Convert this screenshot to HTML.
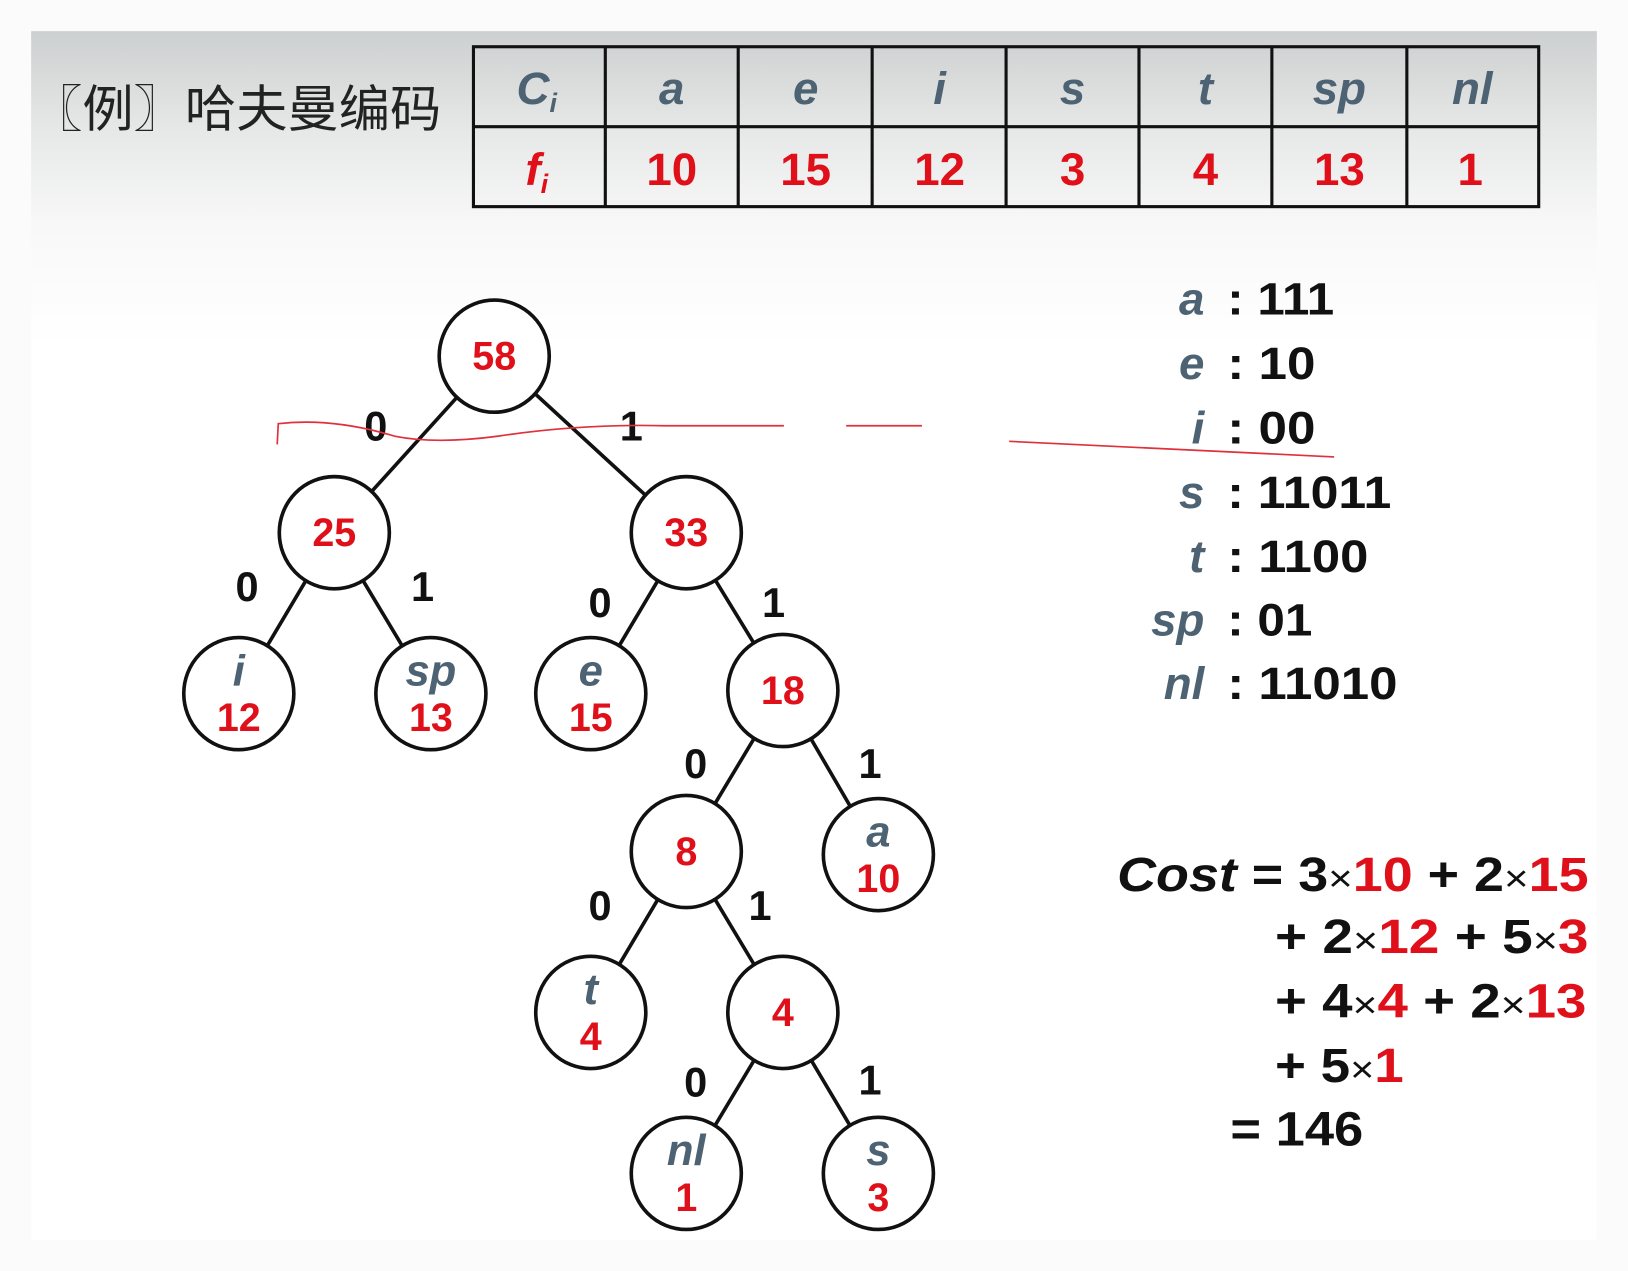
<!DOCTYPE html>
<html><head><meta charset="utf-8"><style>
html,body{margin:0;padding:0;background:#fff;}
svg{display:block}
text{font-family:"Liberation Sans","Noto Sans CJK SC",sans-serif;font-weight:bold}
.r{fill:#e0101a}.g{fill:#4d6373;font-style:italic}.k{fill:#111}
</style></head><body>
<svg width="1628" height="1271" viewBox="0 0 1568 1224" preserveAspectRatio="none" xmlns="http://www.w3.org/2000/svg">
<defs><linearGradient id="bg" x1="0" y1="0" x2="0" y2="1">
<stop offset="0" stop-color="#cdd0d0"/><stop offset="0.08" stop-color="#e6e7e7"/><stop offset="0.16" stop-color="#f8f8f8"/><stop offset="0.26" stop-color="#fff"/><stop offset="1" stop-color="#fff"/></linearGradient></defs>
<rect x="0" y="0" width="1568" height="1224" fill="#fbfbfb"/>
<rect x="30" y="30" width="1508" height="1164" fill="url(#bg)"/>
<text x="30" y="122" font-size="48" textLength="395" lengthAdjust="spacingAndGlyphs" style="font-weight:normal" fill="#222">〖例〗哈夫曼编码</text>
<g stroke="#111" stroke-width="3" fill="none">
<rect x="456" y="45" width="1026" height="154"/>
<line x1="456" y1="122" x2="1482" y2="122"/>
<line x1="583" y1="45" x2="583" y2="199"/><line x1="711" y1="45" x2="711" y2="199"/>
<line x1="840" y1="45" x2="840" y2="199"/><line x1="969" y1="45" x2="969" y2="199"/>
<line x1="1097" y1="45" x2="1097" y2="199"/><line x1="1225" y1="45" x2="1225" y2="199"/>
<line x1="1355" y1="45" x2="1355" y2="199"/>
</g>
<g font-size="44" text-anchor="middle">
<text x="517" y="100" class="g">C<tspan font-size="26" dy="8">i</tspan></text>
<text x="647" y="100" class="g">a</text><text x="776" y="100" class="g">e</text><text x="905" y="100" class="g">i</text>
<text x="1033" y="100" class="g">s</text><text x="1161" y="100" class="g">t</text><text x="1290" y="100" class="g">sp</text><text x="1418" y="100" class="g">nl</text>
<text x="517" y="178" class="r" font-style="italic">f<tspan font-size="26" dy="8">i</tspan></text>
<text x="647" y="178" class="r">10</text><text x="776" y="178" class="r">15</text><text x="905" y="178" class="r">12</text>
<text x="1033" y="178" class="r">3</text><text x="1161" y="178" class="r">4</text><text x="1290" y="178" class="r">13</text><text x="1416" y="178" class="r">1</text>
</g>
<g stroke="#111" stroke-width="3.5">
<line x1="476" y1="343" x2="322" y2="513"/><line x1="476" y1="343" x2="661" y2="513"/>
<line x1="322" y1="513" x2="230" y2="668"/><line x1="322" y1="513" x2="415" y2="668"/>
<line x1="661" y1="513" x2="569" y2="668"/><line x1="661" y1="513" x2="754" y2="665"/>
<line x1="754" y1="665" x2="661" y2="820"/><line x1="754" y1="665" x2="846" y2="823"/>
<line x1="661" y1="820" x2="569" y2="975"/><line x1="661" y1="820" x2="754" y2="975"/>
<line x1="754" y1="975" x2="661" y2="1130"/><line x1="754" y1="975" x2="846" y2="1130"/>
</g>
<g fill="#fff" stroke="#111" stroke-width="3.5">
<ellipse cx="476" cy="343" rx="53" ry="54"/><ellipse cx="322" cy="513" rx="53" ry="54"/><ellipse cx="661" cy="513" rx="53" ry="54"/>
<ellipse cx="230" cy="668" rx="53" ry="54"/><ellipse cx="415" cy="668" rx="53" ry="54"/><ellipse cx="569" cy="668" rx="53" ry="54"/>
<ellipse cx="754" cy="665" rx="53" ry="54"/><ellipse cx="661" cy="820" rx="53" ry="54"/><ellipse cx="846" cy="823" rx="53" ry="54"/>
<ellipse cx="569" cy="975" rx="53" ry="54"/><ellipse cx="754" cy="975" rx="53" ry="54"/><ellipse cx="661" cy="1130" rx="53" ry="54"/><ellipse cx="846" cy="1130" rx="53" ry="54"/>
</g>
<g font-size="38" text-anchor="middle">
<text x="476" y="356" class="r">58</text><text x="322" y="526" class="r">25</text><text x="661" y="526" class="r">33</text>
<text x="754" y="678" class="r">18</text><text x="661" y="833" class="r">8</text><text x="754" y="988" class="r">4</text>
<text x="230" y="660" class="g" font-size="42">i</text><text x="230" y="704" class="r">12</text>
<text x="415" y="660" class="g" font-size="42">sp</text><text x="415" y="704" class="r">13</text>
<text x="569" y="660" class="g" font-size="42">e</text><text x="569" y="704" class="r">15</text>
<text x="846" y="815" class="g" font-size="42">a</text><text x="846" y="859" class="r">10</text>
<text x="569" y="967" class="g" font-size="42">t</text><text x="569" y="1011" class="r">4</text>
<text x="661" y="1122" class="g" font-size="42">nl</text><text x="661" y="1166" class="r">1</text>
<text x="846" y="1122" class="g" font-size="42">s</text><text x="846" y="1166" class="r">3</text>
</g>
<g font-size="40" text-anchor="middle" class="k">
<text x="362" y="424">0</text><text x="608" y="424">1</text>
<text x="238" y="579">0</text><text x="407" y="579">1</text>
<text x="578" y="594">0</text><text x="745" y="594">1</text>
<text x="670" y="749">0</text><text x="838" y="749">1</text>
<text x="578" y="886">0</text><text x="732" y="886">1</text>
<text x="670" y="1056">0</text><text x="838" y="1054">1</text>
</g>
<g stroke="#e0303a" stroke-width="1.6" fill="none">
<path d="M267,428 L268,408 Q320,402 380,420 Q420,428 480,420 Q560,408 640,410 L755,410"/>
<path d="M815,410 L888,410"/>
<path d="M972,425 Q1130,432 1285,440"/>
</g>
<g font-size="44">
<g text-anchor="end" class="g"><text x="1160" y="303">a</text><text x="1160" y="365">e</text><text x="1160" y="427">i</text>
<text x="1160" y="489">s</text><text x="1160" y="551">t</text><text x="1160" y="612">sp</text><text x="1160" y="673">nl</text></g>
<g class="k">
<text x="1182" y="303" textLength="103" lengthAdjust="spacingAndGlyphs">: 111</text>
<text x="1182" y="365" textLength="85" lengthAdjust="spacingAndGlyphs">: 10</text>
<text x="1182" y="427" textLength="85" lengthAdjust="spacingAndGlyphs">: 00</text>
<text x="1182" y="489" textLength="158" lengthAdjust="spacingAndGlyphs">: 11011</text>
<text x="1182" y="551" textLength="136" lengthAdjust="spacingAndGlyphs">: 1100</text>
<text x="1182" y="612" textLength="82" lengthAdjust="spacingAndGlyphs">: 01</text>
<text x="1182" y="673" textLength="164" lengthAdjust="spacingAndGlyphs">: 11010</text></g>
</g>
<g font-size="46" class="k">
<text x="1076" y="858" textLength="454" lengthAdjust="spacingAndGlyphs"><tspan font-style="italic">Cost</tspan> = 3<tspan font-weight="normal" font-size="36">×</tspan><tspan class="r">10</tspan> + 2<tspan font-weight="normal" font-size="36">×</tspan><tspan class="r">15</tspan></text>
<text x="1228" y="918" textLength="302" lengthAdjust="spacingAndGlyphs">+ 2<tspan font-weight="normal" font-size="36">×</tspan><tspan class="r">12</tspan> + 5<tspan font-weight="normal" font-size="36">×</tspan><tspan class="r">3</tspan></text>
<text x="1228" y="980" textLength="300" lengthAdjust="spacingAndGlyphs">+ 4<tspan font-weight="normal" font-size="36">×</tspan><tspan class="r">4</tspan> + 2<tspan font-weight="normal" font-size="36">×</tspan><tspan class="r">13</tspan></text>
<text x="1228" y="1042" textLength="124" lengthAdjust="spacingAndGlyphs">+ 5<tspan font-weight="normal" font-size="36">×</tspan><tspan class="r">1</tspan></text>
<text x="1185" y="1103" textLength="128" lengthAdjust="spacingAndGlyphs">= 146</text>
</g>
</svg>
</body></html>
